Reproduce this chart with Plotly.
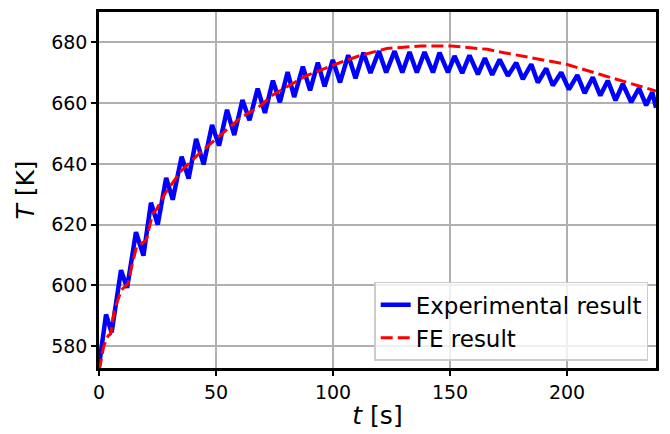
import plotly.graph_objects as go

exp_t = [0, 3.0, 5.4, 9.4, 12.0, 15.8, 19.0, 22.2, 25.1, 28.7, 31.5, 35.3, 38.3, 41.5, 44.7,
         48.3, 51.3, 54.7, 57.8, 61.3, 64.3, 67.8, 70.9, 74.3, 77.3, 80.6, 83.4, 87.1, 90.2,
         93.5, 96.4, 99.9, 103.0, 106.5, 109.6, 113.0, 116.0, 119.6, 122.7, 126.3, 129.6,
         132.7, 135.8, 139.1, 142.7, 145.5, 149.1, 151.9, 155.2, 158.3, 161.9, 164.9, 168.0,
         171.2, 174.7, 178.3, 181.1, 184.7, 187.5, 191.1, 193.9, 197.5, 200.8, 204.4, 207.5,
         211.0, 214.2, 217.4, 220.7, 223.8, 227.4, 230.7, 233.8, 236.4, 238.0]
exp_T = [573.5, 590.4, 584.5, 605.0, 599.2, 617.5, 609.8, 627.2, 620.0, 635.4, 628.2, 642.4,
         635.2, 648.2, 639.8, 652.8, 646.0, 657.8, 649.5, 661.0, 654.4, 664.8, 656.8, 667.4,
         660.3, 670.2, 662.0, 672.0, 664.2, 673.3, 665.5, 674.2, 666.8, 675.8, 668.2, 676.6,
         669.9, 677.1, 670.1, 677.1, 670.1, 676.8, 670.1, 676.8, 670.1, 676.6, 670.1, 675.5,
         669.9, 675.7, 669.5, 674.8, 669.3, 674.4, 669.0, 673.3, 667.9, 672.8, 666.8, 671.4,
         665.8, 670.1, 664.5, 669.2, 663.3, 668.5, 662.5, 667.4, 660.9, 666.3, 660.3, 664.9,
         659.3, 663.6, 658.5]

# FE result
fe_t = [0, 0.6, 2.0, 3.9, 5.0, 6.6, 9.6, 12.5, 13.9, 16.0, 18.9, 20.2, 22.9, 24.6, 28.0,
        35.0, 43.7, 55.0, 60.0, 69.3, 74.0, 83.5, 88.5, 102.8, 111.3, 123.0, 137.7, 150.5,
        166.0, 173.0, 185.0, 199.7, 213.9, 228.0, 238.0]
fe_T = [572.0, 574.0, 580.0, 583.4, 584.0, 592.0, 598.5, 600.8, 606.0, 612.6, 614.2, 614.8,
        623.6, 625.0, 630.0, 637.6, 644.0, 651.6, 654.9, 659.3, 662.6, 666.8, 669.0, 673.3,
        675.6, 678.0, 678.8, 678.8, 677.7, 676.6, 675.0, 672.8, 669.5, 666.3, 664.0]

x_ticks = [0, 50, 100, 150, 200]
y_ticks = [580, 600, 620, 640, 660, 680]

fig = go.Figure()
fig.add_trace(go.Scatter(x=exp_t, y=exp_T, mode="lines", name="Experimental result",
                         line=dict(color="#0000ff", width=4.5)))
fig.add_trace(go.Scatter(x=fe_t, y=fe_T, mode="lines", name="FE result",
                         line=dict(color="#ff0000", width=3, dash="12px,5px")))

axis_common = dict(showline=True, linecolor="black", linewidth=2.5, mirror=True,
                   ticks="outside", ticklen=5, tickwidth=2, tickcolor="black",
                   showgrid=True, gridcolor="#b0b0b0", gridwidth=2, zeroline=False,
                   tickfont=dict(family="DejaVu Sans", size=19, color="black"))

fig.update_xaxes(range=[0, 238], tickvals=x_ticks,
                 title=dict(text="<i>t</i> [s]", font=dict(family="DejaVu Sans", size=25, color="black"),
                            standoff=5),
                 **axis_common)
fig.update_yaxes(range=[572.8, 690], tickvals=y_ticks,
                 title=dict(text="<i>T</i> [K]", font=dict(family="DejaVu Sans", size=25, color="black"),
                            standoff=10),
                 **axis_common)

fig.update_layout(
    width=670, height=434,
    margin=dict(l=99, r=14, t=9, b=65),
    paper_bgcolor="white", plot_bgcolor="white",
    font=dict(family="DejaVu Sans", color="black"),
    legend=dict(x=0.986, y=0.02, xanchor="right", yanchor="bottom",
                bgcolor="rgba(255,255,255,0.8)", bordercolor="#cccccc", borderwidth=1.5,
                font=dict(family="DejaVu Sans", size=23, color="black"),
                tracegroupgap=0),
    showlegend=True,
)

fig.write_html("out.html")
